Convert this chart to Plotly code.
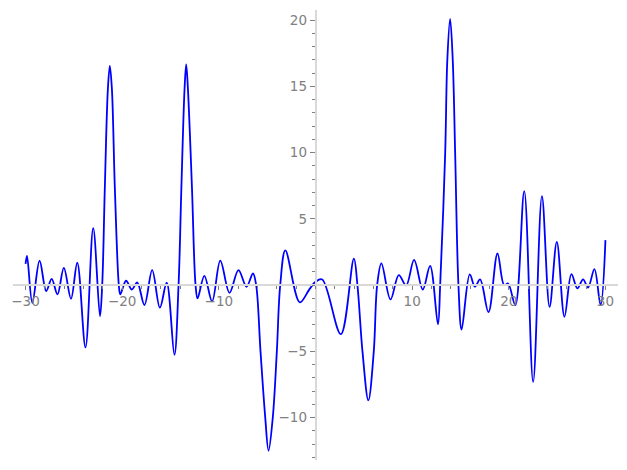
import plotly.graph_objects as go

# Curve sample points (extrema, zero crossings, flanks)
x_vals = [
    -30.0, -29.85, -29.3, -28.55, -27.86, -27.3, -26.7, -26.04, -25.3, -24.65,
    -23.8, -23.0, -22.3, -22.07, -21.8, -21.48, -21.28, -21.07, -20.76, -20.35,
    -20.2, -19.6, -19.0, -18.45, -17.7, -16.9, -16.1, -15.4, -14.6, -14.17,
    -13.88, -13.55, -13.38, -13.2, -12.78, -12.41, -12.2, -11.5, -10.7, -9.85,
    -8.9, -7.97, -7.14, -6.47, -6.14, -5.69, -5.2, -4.86, -4.42, -4.0,
    -3.65, -3.12, -1.62, -0.62, 0.0, 0.69, 2.62, 3.97, 4.34, 4.86,
    5.47, 6.03, 6.38, 6.82, 7.76, 8.62, 9.38, 10.2, 11.1, 11.86,
    12.67, 12.9, 13.42, 13.64, 13.93, 14.2, 14.45, 14.79, 15.12, 15.96,
    16.5, 17.03, 17.9, 18.83, 19.52, 19.93, 20.67, 21.6, 22.52, 23.43,
    24.22, 24.97, 25.76, 26.48, 27.1, 27.69, 28.2, 28.86, 29.5, 30.0,
]
y_vals = [
    1.6, 2.2, -1.34, 1.84, -0.45, 0.48, -0.7, 1.31, -1.03, 1.69,
    -4.7, 4.3, -2.35, 0.0, 7.3, 14.85, 16.55, 14.85, 7.3, 0.0,
    -0.7, 0.33, -0.33, 0.2, -1.5, 1.13, -1.7, 0.18, -5.26, 0.0,
    7.3, 14.8, 16.67, 14.8, 7.3, 0.0, -1.0, 0.7, -1.23, 1.85,
    -0.58, 1.13, -0.12, 0.88, 0.0, -5.0, -10.0, -12.5, -10.0, -5.0,
    0.0, 2.62, -1.3, -0.3, 0.25, 0.43, -3.7, 2.0, 0.0, -5.0,
    -8.7, -5.0, 0.0, 1.65, -1.08, 0.76, -0.02, 1.9, -0.33, 1.46,
    -2.96, 0.0, 10.0, 17.0, 20.1, 17.0, 10.0, 0.0, -3.35, 0.81,
    -0.12, 0.43, -2.04, 2.39, 0.0, 0.12, -1.51, 7.1, -7.3, 6.72,
    -1.64, 3.27, -2.39, 0.83, -0.25, 0.43, -0.18, 1.21, -1.51, 3.4,
]

x_ticks = [-30, -20, -10, 10, 20, 30]
y_ticks = [-10, -5, 5, 10, 15, 20]

x_range = [-31.3, 31.3]
y_range = [-13.2, 20.77]

fig = go.Figure()
fig.add_trace(go.Scatter(
    x=x_vals, y=y_vals, mode="lines",
    line=dict(color="#0000ff", width=1.8, shape="spline", smoothing=1.0),
    hoverinfo="skip", showlegend=False,
))

grey = "#808080"
axis_line = "#d9d9d9"
xpos = (0 - y_range[0]) / (y_range[1] - y_range[0])
ypos = (0 - x_range[0]) / (x_range[1] - x_range[0])

fig.update_layout(
    width=611, height=454,
    margin=dict(l=5, r=1, t=2, b=2, autoexpand=False),
    paper_bgcolor="white", plot_bgcolor="white",
    font=dict(family="DejaVu Sans", size=13.5, color=grey),
    xaxis=dict(
        range=x_range, anchor="free", position=xpos, automargin=False,
        showgrid=False, zeroline=False,
        showline=True, linecolor=axis_line, linewidth=1.5,
        tickmode="array", tickvals=x_ticks,
        ticks="outside", ticklen=4, tickcolor=grey, tickwidth=1,
        minor=dict(tickmode="linear", tick0=0, dtick=2, ticks="outside",
                   ticklen=3, tickcolor=grey, tickwidth=1, showgrid=False),
        tickfont=dict(family="DejaVu Sans", size=13.5, color=grey),
    ),
    yaxis=dict(
        range=y_range, anchor="free", position=ypos, automargin=False,
        showgrid=False, zeroline=False,
        showline=True, linecolor=axis_line, linewidth=1.5,
        tickmode="array", tickvals=y_ticks,
        ticks="outside", ticklen=5, tickcolor=grey, tickwidth=1,
        minor=dict(tickmode="linear", tick0=0, dtick=1, ticks="outside",
                   ticklen=3, tickcolor=grey, tickwidth=1, showgrid=False),
        tickfont=dict(family="DejaVu Sans", size=13.5, color=grey),
    ),
)

fig.write_html("out.html")
